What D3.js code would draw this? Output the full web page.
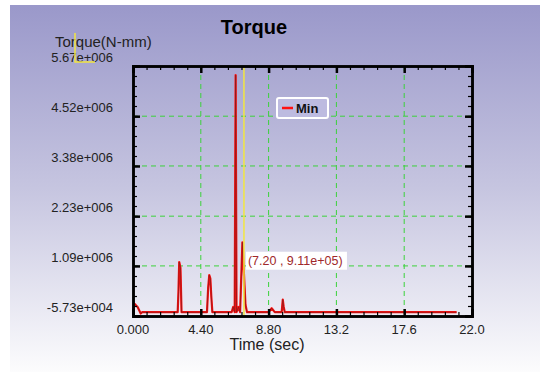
<!DOCTYPE html>
<html>
<head>
<meta charset="utf-8">
<script src="https://cdn.jsdelivr.net/npm/d3@7"></script>
<style>
  body { margin: 0; background: #fff; }
  svg { display: block; font-family: "Liberation Sans", Arial, sans-serif; }
</style>
</head>
<body>
<svg id="chart" width="549" height="372"></svg>
<script>
// series "Min": time (sec) and torque (N-mm)
const timeSec = [0, 0.1, 0.3, 0.5, 0.6, 2.9, 2.95, 3.0, 3.08, 3.15, 4.8, 4.88, 4.95, 5.02, 5.08, 5.15,
  6.4, 6.5, 6.6, 6.66, 6.72, 6.85, 6.95, 7.1, 7.2, 7.3, 7.4, 8.8, 9.0, 9.2, 9.65, 9.72, 9.78, 9.85, 21.0];
const torqueMin = [3e4, 2.2e5, 1.5e5, 0, 3e4, 3e4, 5e5, 1.18e6, 1.05e6, 3e4, 3e4, 6e5, 8.8e5, 8.0e5, 4e5, 3e4,
  3e4, 1.5e5, 3e4, 5.46e6, 3e4, 1.5e5, 3e4, 1.63e6, 9.11e5, 2e5, 3e4, 3e4, 1.2e5, 3e4, 3e4, 3.2e5, 1.5e5, 3e4, 3e4];

const xTicks = [0, 4.4, 8.8, 13.2, 17.6, 22.0];
const xTickLabels = ["0.000", "4.40", "8.80", "13.2", "17.6", "22.0"];
const yTicks = [-5.73e4, 1.09e6, 2.23e6, 3.38e6, 4.52e6, 5.67e6];
const yTickLabels = ["-5.73e+004", "1.09e+006", "2.23e+006", "3.38e+006", "4.52e+006", "5.67e+006"];
const cursor = {t: 7.20, v: 9.11e5, label: "(7.20 , 9.11e+05)"};

const svg = d3.select("#chart");
const margin = {top: 66, right: 77, bottom: 56, left: 133};
const W = +svg.attr("width"), H = +svg.attr("height");
const width = W - margin.left - margin.right;
const height = H - margin.top - margin.bottom;

// background panel gradient
const defs = svg.append("defs");
const grad = defs.append("linearGradient").attr("id", "bg").attr("x1", 0).attr("y1", 0).attr("x2", 0).attr("y2", 1);
grad.append("stop").attr("offset", "0%").attr("stop-color", "#9a98ca");
grad.append("stop").attr("offset", "50%").attr("stop-color", "#c6c5e0");
grad.append("stop").attr("offset", "100%").attr("stop-color", "#fcfcfd");
svg.append("rect").attr("x", 10).attr("y", 5).attr("width", 530).attr("height", 367).attr("fill", "url(#bg)");

const x = d3.scaleLinear().domain([0, 22]).range([0, width]);
const y = d3.scaleLinear().domain([-5.73e4, 5.67e6]).range([height, 0]);

const g = svg.append("g").attr("transform", `translate(${margin.left},${margin.top})`);

// grid
g.append("g").selectAll("line").data(xTicks.slice(1, -1)).join("line")
  .attr("x1", d => x(d)).attr("x2", d => x(d)).attr("y1", 0).attr("y2", height)
  .attr("stroke", "#3bd23b").attr("stroke-width", 1).attr("stroke-dasharray", "5,4");
g.append("g").selectAll("line").data(yTicks.slice(1, -1)).join("line")
  .attr("y1", d => y(d)).attr("y2", d => y(d)).attr("x1", 0).attr("x2", width)
  .attr("stroke", "#3bd23b").attr("stroke-width", 1).attr("stroke-dasharray", "5,4");

// data line
const line = d3.line().x((d, i) => x(timeSec[i])).y(d => y(d));
g.append("path").datum(torqueMin).attr("d", line)
  .attr("fill", "none").attr("stroke", "#ff1010").attr("stroke-width", 2.2).attr("stroke-linejoin", "round");
g.append("path").datum(torqueMin).attr("d", line)
  .attr("fill", "none").attr("stroke", "#8a1a1a").attr("stroke-width", 0.8);

// cursor
g.append("line").attr("x1", x(cursor.t)).attr("x2", x(cursor.t)).attr("y1", 0).attr("y2", height)
  .attr("stroke", "#f2e640").attr("stroke-width", 1.5);

// axes (inward ticks on all four sides)
const minorX = d3.range(0, 22.001, 0.88);
const minorY = d3.range(0, 26).map(i => -5.73e4 + i * (5.67e6 + 5.73e4) / 25);
const axB = d3.axisBottom(x).tickValues(minorX).tickSize(-4).tickFormat("");
const axT = d3.axisTop(x).tickValues(minorX).tickSize(-4).tickFormat("");
const axL = d3.axisLeft(y).tickValues(minorY).tickSize(-4).tickFormat("");
const axR = d3.axisRight(y).tickValues(minorY).tickSize(-4).tickFormat("");
const axB2 = d3.axisBottom(x).tickValues(xTicks).tickSize(-7).tickFormat("");
const axT2 = d3.axisTop(x).tickValues(xTicks).tickSize(-7).tickFormat("");
const axL2 = d3.axisLeft(y).tickValues(yTicks).tickSize(-7).tickFormat("");
const axR2 = d3.axisRight(y).tickValues(yTicks).tickSize(-7).tickFormat("");
[[axB, `0,${height}`], [axT, "0,0"], [axL, "0,0"], [axR, `${width},0`],
 [axB2, `0,${height}`], [axT2, "0,0"], [axL2, "0,0"], [axR2, `${width},0`]].forEach(([ax, tr], k) => {
  const a = g.append("g").attr("transform", `translate(${tr})`).call(ax);
  a.select(".domain").attr("stroke", "#000").attr("stroke-width", 2.5);
  a.selectAll(".tick line").attr("stroke", "#000").attr("stroke-width", k < 4 ? 1.2 : 2.5);
});

// tick labels
g.append("g").selectAll("text").data(xTicks).join("text")
  .attr("x", d => x(d)).attr("y", height + 18)
  .attr("text-anchor", "middle").attr("font-size", 13).attr("fill", "#222")
  .text((d, i) => xTickLabels[i]);
g.append("g").selectAll("text").data(yTicks).join("text")
  .attr("x", -20).attr("y", d => y(d) - 4)
  .attr("text-anchor", "end").attr("font-size", 13).attr("fill", "#222")
  .text((d, i) => yTickLabels[i]);

// titles
svg.append("text").attr("x", 254).attr("y", 34).attr("text-anchor", "middle")
  .attr("font-size", 20).attr("font-weight", "bold").attr("fill", "#000").text("Torque");
svg.append("text").attr("x", 55).attr("y", 47).attr("font-size", 15).attr("fill", "#222").text("Torque(N-mm)");
svg.append("text").attr("x", 267).attr("y", 350).attr("text-anchor", "middle")
  .attr("font-size", 16).attr("fill", "#222").text("Time (sec)");

// yellow marker near y label
svg.append("path").attr("d", "M75,33V62H95").attr("fill", "none")
  .attr("stroke", "#f2e640").attr("stroke-width", 1.5);

// legend
const lg = svg.append("g").attr("transform", "translate(277,98)");
lg.append("rect").attr("width", 51).attr("height", 20).attr("rx", 2)
  .attr("fill", "#bdbbe0").attr("stroke", "#fff").attr("stroke-width", 2);
lg.append("line").attr("x1", 5).attr("x2", 16).attr("y1", 10).attr("y2", 10)
  .attr("stroke", "#ff1010").attr("stroke-width", 2.5);
lg.append("text").attr("x", 19).attr("y", 15).attr("font-size", 13).attr("font-weight", "bold")
  .attr("fill", "#111").text("Min");

// cursor readout
const cx = x(cursor.t) + margin.left, cy = y(cursor.v) + margin.top;
const rd = svg.append("g").attr("transform", `translate(${cx + 2},${cy - 22})`);
rd.append("rect").attr("width", 101).attr("height", 18).attr("fill", "#fff");
rd.append("text").attr("x", 2).attr("y", 13.5).attr("font-size", 12.5).attr("fill", "#a0282a").text(cursor.label);
</script>
</body>
</html>
